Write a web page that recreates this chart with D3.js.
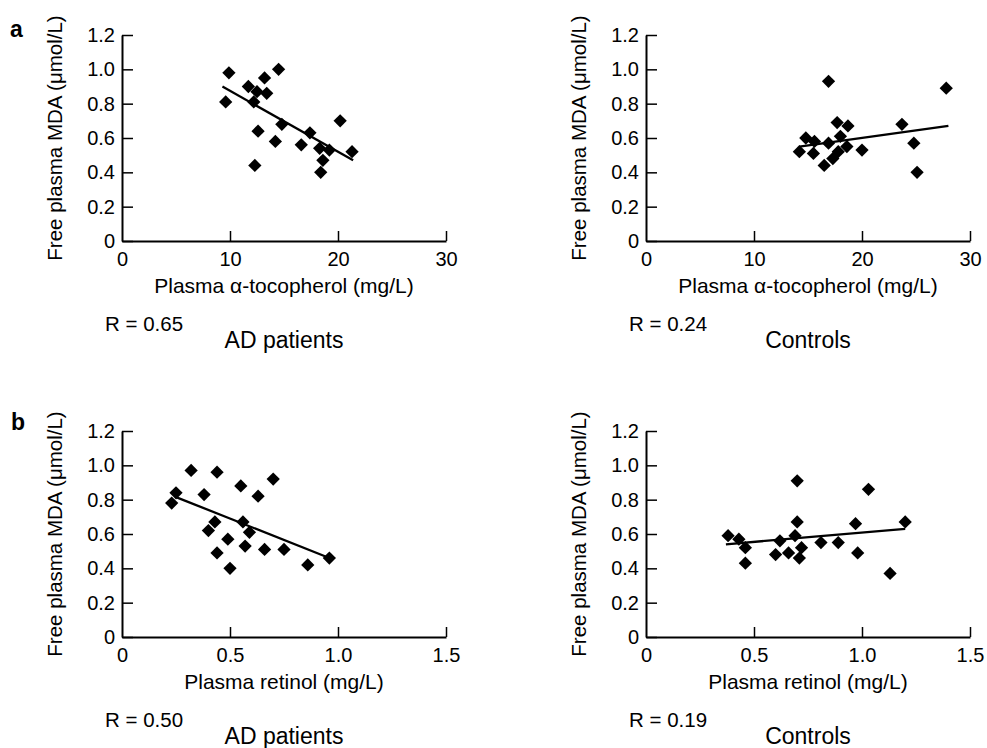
<html>
<head>
  <script src="https://d3js.org/d3.v7.min.js"></script>
  <style>
    body { margin: 0; background: #fff; }
    text { font-family: "Liberation Sans", Arial, Helvetica, sans-serif; fill: #000; }
    .tick text { font-size: 20px; }
    .axis .domain { stroke: #000; stroke-width: 2px; }
    .axis .tick line { stroke: #000; stroke-width: 1.5px; }
    .title { font-size: 20.5px; }
    .xtitle { font-size: 21px; }
    .group { font-size: 23px; }
    .panel-letter { font-size: 23px; font-weight: bold; }
  </style>
</head>
<body>
  <svg id="figure" width="987" height="748"></svg>

  <script>
    // values
    const yTicks = [0, 0.2, 0.4, 0.6, 0.8, 1.0, 1.2];
    const tocoTicks = [0, 10, 20, 30];
    const retinolTicks = [0, 0.5, 1.0, 1.5];

    // a, AD patients: tocopherol vs MDA
    const adTocoX = [9.6, 9.9, 11.7, 12.2, 12.5, 13.2, 13.4, 14.5, 12.6, 14.2, 12.3, 14.8, 16.6, 17.4, 18.3, 18.6, 18.4, 19.2, 20.2, 21.3];
    const adTocoY = [0.81, 0.98, 0.90, 0.81, 0.87, 0.95, 0.86, 1.00, 0.64, 0.58, 0.44, 0.68, 0.56, 0.63, 0.54, 0.47, 0.40, 0.53, 0.70, 0.52];
    const adTocoFit = [[9.3, 0.90], [21.4, 0.47]];

    // a, controls
    const ctTocoX = [14.2, 14.8, 15.6, 15.5, 16.9, 16.9, 17.7, 18.0, 18.7, 18.6, 17.8, 17.3, 16.5, 20.0, 23.7, 24.8, 25.1, 27.8];
    const ctTocoY = [0.52, 0.60, 0.58, 0.51, 0.57, 0.93, 0.69, 0.61, 0.67, 0.55, 0.52, 0.48, 0.44, 0.53, 0.68, 0.57, 0.40, 0.89];
    const ctTocoFit = [[14.2, 0.55], [28.0, 0.67]];

    // b, AD patients: retinol vs MDA
    const adRetX = [0.23, 0.25, 0.32, 0.38, 0.44, 0.43, 0.40, 0.44, 0.49, 0.50, 0.55, 0.56, 0.59, 0.57, 0.63, 0.66, 0.70, 0.75, 0.86, 0.96];
    const adRetY = [0.78, 0.84, 0.97, 0.83, 0.96, 0.67, 0.62, 0.49, 0.57, 0.40, 0.88, 0.67, 0.61, 0.53, 0.82, 0.51, 0.92, 0.51, 0.42, 0.46];
    const adRetFit = [[0.25, 0.815], [0.96, 0.46]];

    // b, controls
    const ctRetX = [0.38, 0.43, 0.46, 0.46, 0.60, 0.62, 0.66, 0.70, 0.70, 0.69, 0.72, 0.71, 0.81, 0.89, 0.97, 0.98, 1.03, 1.13, 1.20];
    const ctRetY = [0.59, 0.57, 0.52, 0.43, 0.48, 0.56, 0.49, 0.91, 0.67, 0.59, 0.52, 0.46, 0.55, 0.55, 0.66, 0.49, 0.86, 0.37, 0.67];
    const ctRetFit = [[0.37, 0.54], [1.20, 0.63]];

    const svg = d3.select("svg#figure");

    const panelWidth = 324;
    const panelHeight = 206;
    const yFmt = d => d === 0 ? "0" : d3.format(".1f")(d);

    function drawPanel(opts) {
      const x = d3.scaleLinear().domain(opts.xDomain).range([0, panelWidth]);
      const y = d3.scaleLinear().domain([0, 1.2]).range([panelHeight, 0]);

      const g = svg.append("g")
        .attr("transform", "translate(" + opts.left + "," + opts.top + ")");

      g.append("g")
        .attr("class", "axis")
        .call(d3.axisLeft(y).tickValues(yTicks).tickFormat(yFmt)
          .tickSizeInner(-11).tickSizeOuter(0).tickPadding(7));

      g.append("g")
        .attr("class", "axis")
        .attr("transform", "translate(0," + panelHeight + ")")
        .call(d3.axisBottom(x).tickValues(opts.xTicks).tickFormat(opts.xFmt)
          .tickSizeInner(-10).tickSizeOuter(0).tickPadding(11))
        .call(a => a.selectAll(".tick line").filter(d => d === 0).remove());

      g.selectAll(".axis").attr("font-family", null).attr("font-size", null);

      // regression line
      g.append("line")
        .attr("x1", x(opts.fit[0][0])).attr("y1", y(opts.fit[0][1]))
        .attr("x2", x(opts.fit[1][0])).attr("y2", y(opts.fit[1][1]))
        .attr("stroke", "#000")
        .attr("stroke-width", 2.3);

      // diamonds
      const diamond = d3.symbol().type(d3.symbolSquare).size(88);
      g.selectAll("path.pt")
        .data(d3.zip(opts.xs, opts.ys))
        .join("path")
        .attr("class", "pt")
        .attr("d", diamond)
        .attr("transform", d => "translate(" + x(d[0]) + "," + y(d[1]) + ") rotate(45)")
        .attr("fill", "#000");

      // y title
      g.append("text")
        .attr("class", "title")
        .attr("transform", "translate(-60," + (panelHeight / 2) + ") rotate(-90)")
        .attr("text-anchor", "middle")
        .text("Free plasma MDA (\u03bcmol/L)");

      // x title
      g.append("text")
        .attr("class", "xtitle")
        .attr("x", panelWidth / 2)
        .attr("y", panelHeight + 52)
        .attr("text-anchor", "middle")
        .text(opts.xTitle);

      g.append("text")
        .attr("class", "title")
        .attr("x", -17)
        .attr("y", panelHeight + 90)
        .text(opts.r);

      g.append("text")
        .attr("class", "group")
        .attr("x", panelWidth / 2)
        .attr("y", panelHeight + 107)
        .attr("text-anchor", "middle")
        .text(opts.group);
    }

    const tocoTitle = "Plasma \u03b1-tocopherol (mg/L)";
    const retTitle = "Plasma retinol (mg/L)";
    const tocoFmt = d3.format("d");
    const retFmt = d => d === 0 ? "0" : d3.format(".1f")(d);

    drawPanel({ left: 122, top: 35, xDomain: [0, 30], xTicks: tocoTicks, xFmt: tocoFmt,
      xs: adTocoX, ys: adTocoY, fit: adTocoFit, xTitle: tocoTitle, r: "R = 0.65", group: "AD patients" });
    drawPanel({ left: 646, top: 35, xDomain: [0, 30], xTicks: tocoTicks, xFmt: tocoFmt,
      xs: ctTocoX, ys: ctTocoY, fit: ctTocoFit, xTitle: tocoTitle, r: "R = 0.24", group: "Controls" });
    drawPanel({ left: 122, top: 431, xDomain: [0, 1.5], xTicks: retinolTicks, xFmt: retFmt,
      xs: adRetX, ys: adRetY, fit: adRetFit, xTitle: retTitle, r: "R = 0.50", group: "AD patients" });
    drawPanel({ left: 646, top: 431, xDomain: [0, 1.5], xTicks: retinolTicks, xFmt: retFmt,
      xs: ctRetX, ys: ctRetY, fit: ctRetFit, xTitle: retTitle, r: "R = 0.19", group: "Controls" });

    svg.append("text").attr("class", "panel-letter").attr("x", 10).attr("y", 37).text("a");
    svg.append("text").attr("class", "panel-letter").attr("x", 11).attr("y", 430).text("b");
  </script>
</body>
</html>
